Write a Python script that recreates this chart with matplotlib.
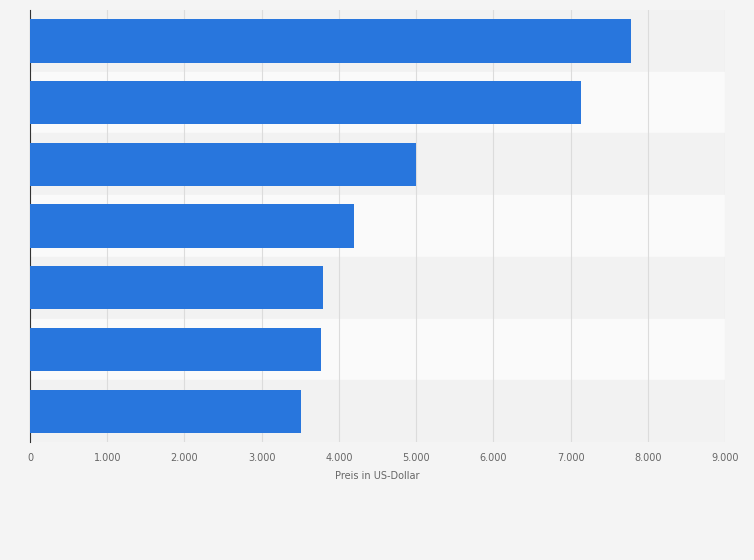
import numpy as np
import matplotlib
matplotlib.use("Agg")
import matplotlib.pyplot as plt

# ── Data ────────────────────────────────────────────────────────────────
categories = ["1", "2", "3", "4", "5", "6", "7"]  # labels not shown in source
prices = [7780, 7135, 5000, 4200, 3795, 3770, 3510]
xticks = [0, 1000, 2000, 3000, 4000, 5000, 6000, 7000, 8000, 9000]
xtick_labels = ["0", "1.000", "2.000", "3.000", "4.000", "5.000",
                "6.000", "7.000", "8.000", "9.000"]

BAR = "#2876dd"
BG = "#f4f4f4"

fig = plt.figure(figsize=(7.54, 5.60), dpi=100, facecolor=BG)
ax = fig.add_axes([0.0398, 0.2107, 0.9217, 0.7713])
ax.set_facecolor(BG)

y = np.arange(len(categories))
# alternating row bands
for i in y:
    ax.axhspan(i - 0.5, i + 0.5, color="#f2f2f2" if i % 2 == 0 else "#fafafa", zorder=0)

ax.barh(y, prices, height=0.7, color=BAR, zorder=3)

ax.set_ylim(len(categories) - 0.5, -0.5)
ax.set_xlim(0, 9000)
ax.set_yticks([])
ax.set_xticks(xticks)
ax.set_xticklabels(xtick_labels, fontsize=7, color="#666666")
ax.tick_params(axis="x", length=0, pad=8)
ax.xaxis.grid(True, color="#dcdcdc", linewidth=0.8, zorder=1)
ax.set_axisbelow(True)
ax.set_xlabel("Preis in US-Dollar", fontsize=7, color="#666666", labelpad=6)

for s in ["top", "right", "bottom"]:
    ax.spines[s].set_visible(False)
ax.spines["left"].set_color("#333333")
ax.spines["left"].set_linewidth(0.8)

fig.savefig("out.png", dpi=100, facecolor=BG)
